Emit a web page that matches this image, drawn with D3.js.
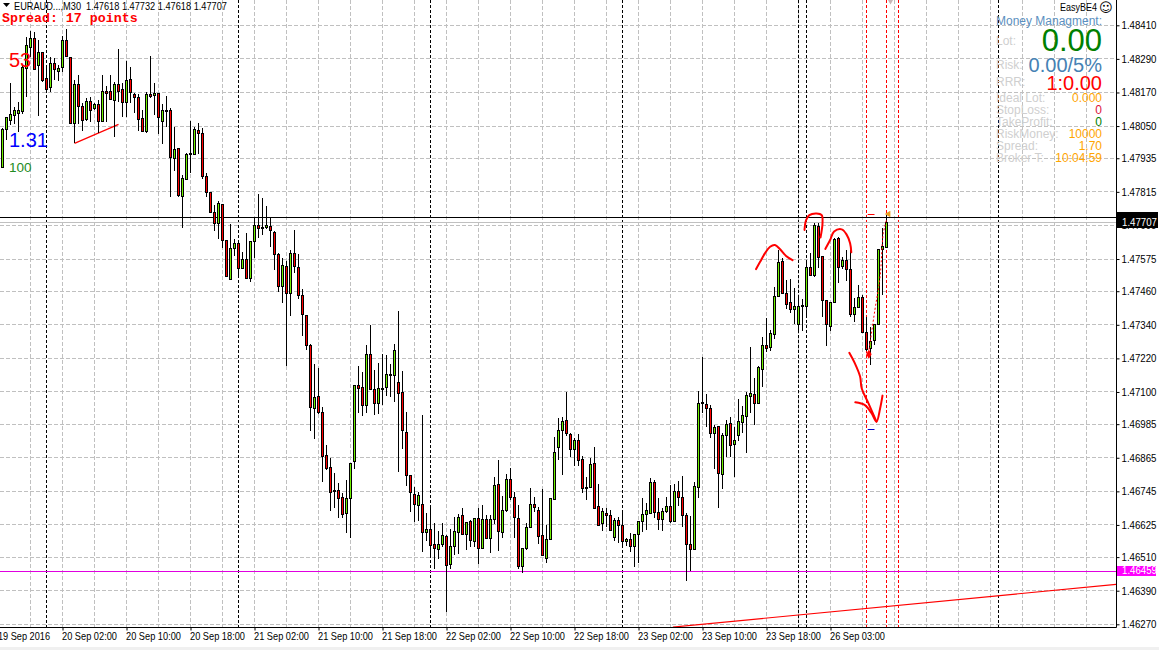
<!DOCTYPE html>
<html><head><meta charset="utf-8">
<style>html,body{margin:0;padding:0;background:#fff;overflow:hidden}svg{display:block}text{font-family:"Liberation Sans",Arial,sans-serif}</style>
<script src="https://cdn.jsdelivr.net/npm/d3@7"></script>
</head><body><svg id="c" width="1159" height="650"></svg>
<script>
// Prices are stored in points (0.00001) above BASE_PRICE
const BASE_PRICE = 1.46;
const opens = [1902,2036,2072,2087,2098,2101,2256,2330,2363,2266,
2313,2220,2185,2272,2244,2259,2356,2296,2059,2197,
2120,2074,2139,2112,2128,2069,2175,2175,2141,2197,
2179,2135,2215,2163,2153,2078,2029,2161,2159,2167,
2066,2105,2104,1936,1970,1801,1862,1951,1949,2035,
2024,1870,1813,1742,1702,1770,1640,1503,1612,1631,
1542,1574,1506,1637,1695,1688,1687,1692,1670,1592,
1476,1549,1452,1595,1545,1445,1374,1266,1041,1084,
1027,874,831,748,748,723,665,719,851,1124,
1116,1051,1234,1109,1058,1113,1115,1163,1158,1134,
1099,956,802,734,694,698,597,609,556,539,
558,584,482,547,597,659,590,638,565,648,
540,645,578,645,770,598,676,788,723,648,
476,540,615,698,677,588,505,573,716,904,
963,999,949,897,927,859,759,758,845,691,
629,666,659,581,641,623,565,573,547,590,
638,663,665,777,670,646,671,691,637,745,
723,659,555,538,759,1062,1056,1041,952,976,
806,945,988,912,944,990,1012,1083,1091,1058,
1183,1267,1258,1308,1442,1567,1452,1420,1394,1342,
1409,1406,1545,1515,1692,1583,1427,1333,1420,1649,
1548,1570,1538,1376,1401,1438,1313,1256,1283,1340,
1608,1618];
const closes = [2036,2080,2092,2104,2107,2259,2337,2363,2253,2313,
2212,2182,2272,2251,2256,2356,2298,2060,2197,2120,
2069,2139,2107,2128,2069,2175,2169,2146,2199,2173,
2134,2213,2169,2151,2076,2030,2161,2153,2167,2081,
2104,2101,1935,1967,1801,1864,1950,1949,2038,2023,
1869,1812,1742,1702,1774,1643,1512,1612,1631,1540,
1574,1506,1637,1695,1683,1683,1695,1676,1592,1476,
1552,1452,1595,1548,1444,1376,1268,1044,1081,1026,
869,829,740,744,719,662,720,845,1124,1114,
1051,1234,1108,1058,1113,1108,1163,1158,1249,1095,
965,801,740,697,731,597,609,553,540,556,
589,482,547,600,652,590,634,569,648,540,
645,576,645,766,601,677,788,722,651,476,
541,616,698,686,583,516,573,720,884,963,
994,951,897,928,854,754,754,841,686,623,
673,658,604,641,623,565,573,547,591,638,
663,677,777,671,644,673,690,637,745,723,
658,555,536,763,1059,1057,1040,952,973,809,
945,984,908,926,995,1016,1088,1095,1058,1188,
1267,1258,1309,1442,1563,1452,1413,1394,1406,1406,
1405,1545,1515,1694,1581,1427,1342,1420,1645,1544,
1570,1538,1376,1402,1438,1312,1251,1281,1340,1608,
1620,1707];
const highs = [2044,2084,2203,2119,2137,2268,2369,2390,2387,2357,
2313,2256,2298,2292,2268,2372,2396,2296,2215,2232,
2131,2149,2153,2131,2143,2232,2193,2232,2209,2324,
2205,2282,2262,2169,2163,2107,2173,2300,2205,2169,
2129,2157,2113,2048,1970,1875,1952,2068,2048,2060,
2042,1881,1816,1768,1782,1770,1640,1699,1645,1631,
1601,1667,1637,1720,1807,1792,1766,1726,1675,1595,
1577,1569,1609,1679,1593,1467,1374,1270,1200,1184,
1047,910,865,809,776,740,785,845,1124,1194,
1171,1268,1339,1178,1205,1236,1232,1199,1271,1389,
1175,1028,802,762,744,1018,666,684,631,603,
631,589,609,654,664,687,637,642,648,684,
696,660,660,797,857,728,807,829,742,696,
541,631,758,726,690,752,625,723,938,1006,
1009,1101,952,937,949,872,797,863,904,770,
684,684,678,648,652,666,577,597,591,640,
723,702,791,785,720,684,726,767,773,782,
800,666,658,779,1103,1224,1093,1053,982,976,
952,1000,1012,976,1074,1050,1101,1259,1151,1193,
1295,1363,1321,1474,1607,1577,1500,1504,1470,1434,
1431,1565,1595,1702,1702,1583,1428,1423,1649,1652,
1583,1607,1607,1434,1482,1446,1369,1333,1343,1610,
1685,1732];
const lows = [1899,2000,2054,2057,2030,2093,2155,2298,2250,2087,
2209,2170,2173,2215,2211,2244,2296,2057,1988,2057,
2034,2069,2066,2107,2026,2069,2066,2143,2012,2137,
2081,2081,2131,2095,2034,2029,2026,2150,2089,2022,
1986,2045,1798,1891,1798,1687,1861,1881,1947,1950,
1861,1798,1738,1676,1646,1615,1509,1500,1586,1509,
1539,1503,1494,1577,1649,1661,1682,1619,1536,1458,
1419,1194,1371,1526,1431,1301,1250,962,932,1023,
779,821,675,684,651,651,595,578,825,1026,
1015,1026,1107,1018,1020,1053,1085,1081,1063,815,
898,764,671,637,639,528,567,517,467,505,
545,314,467,517,521,588,535,547,547,485,
540,573,526,628,533,578,671,714,578,467,
452,535,613,671,557,514,488,571,714,857,
803,944,869,835,837,738,714,756,682,621,
604,619,603,569,559,547,551,528,476,490,
601,607,663,648,607,604,669,631,634,692,
616,426,461,535,722,1024,976,934,826,684,
754,869,869,797,926,954,883,1024,982,1057,
1119,1244,1247,1290,1439,1450,1396,1381,1343,1319,
1319,1367,1513,1509,1542,1368,1265,1319,1417,1490,
1540,1498,1369,1350,1399,1309,1247,1196,1269,1338,
1446,1618];

const priceTicks = [1.4841,1.4829,1.4817,1.4805,1.47935,1.47815,1.47695,1.47575,1.4746,1.4734,1.4722,1.471,1.46985,1.46865,1.46745,1.46625,1.4651,1.4639,1.4627];
const dateBars = [-1,15,31,47,63,79,95,111,127,143,159,175,191,207];
const dateLabels = ["19 Sep 2016","20 Sep 02:00","20 Sep 10:00","20 Sep 18:00","21 Sep 02:00","21 Sep 10:00","21 Sep 18:00","22 Sep 02:00","22 Sep 10:00","22 Sep 18:00","23 Sep 02:00","23 Sep 10:00","23 Sep 18:00","26 Sep 03:00"];
const blackVLines = [11,59,107,155,199,201,249];
const redVLines = [216,221,224];
const trendA = [[18,1988],[29,2056]];
const trendB = [[167.6,260],[278.6,413]];
const scribbles = [
 [[188.4,1539],[189.4,1565],[190.6,1595],[191.9,1619],[193.1,1625],[194.4,1610],[195.9,1586],[197.5,1571]],
 [[200.5,1679],[200.9,1714],[201.7,1732],[203.5,1738],[204.8,1732],[205,1702],[204.5,1652]],
 [[205.7,1611],[206.9,1643],[207.9,1673],[209.8,1681],[211,1663],[211.9,1631],[212.2,1599]],
 [[211.7,1240],[213.1,1202],[214.4,1155],[214.8,1113],[216.5,1059],[218.5,994]],
 [[213.2,1063],[215.6,1053],[217.3,1023],[218.5,994],[219.4,1041],[220,1087]]
];
const tradePath = [[216.5,1238],[218.1,1393],[219.4,1512],[220.2,1667],[221,1714]];
const pt = p => BASE_PRICE + p / 1e5;
const bidPrice = 1.47707, upperLevel = 1.47722, magentaLevel = 1.46459;

const svg = d3.select("#c");
const x = d3.scaleLinear().domain([0,221]).range([2.5,886.5]);
const y = d3.scaleLinear().domain([1.4841,1.4627]).range([25.3,624.3]);
const crisp = v => Math.floor(v) + .5;
const R = 1116, B = 627;

svg.append("rect").attr("x",0).attr("y",647).attr("width",1159).attr("height",3).attr("fill","#f0f0f0");
svg.append("clipPath").attr("id","plot").append("rect").attr("width",R).attr("height",B);
const plot = svg.append("g").attr("clip-path","url(#plot)");

// grid
const gridBars = d3.range(7,7+8*34,8);
plot.append("g").selectAll("line").data(gridBars).join("line")
 .attr("x1",d=>x(d)).attr("x2",d=>x(d)).attr("y1",0).attr("y2",B)
 .attr("stroke","#c0c0c0").attr("stroke-dasharray","4,2");
plot.append("g").selectAll("line").data(priceTicks).join("line")
 .attr("x1",0).attr("x2",R).attr("y1",d=>crisp(y(d))).attr("y2",d=>crisp(y(d)))
 .attr("stroke","#c0c0c0").attr("stroke-dasharray","4,2");

// vertical separators
plot.append("g").selectAll("line").data(blackVLines).join("line")
 .attr("x1",d=>x(d)).attr("x2",d=>x(d)).attr("y1",0).attr("y2",B)
 .attr("stroke","#000").attr("stroke-dasharray","3,2");
plot.append("g").selectAll("line").data(redVLines).join("line")
 .attr("x1",d=>x(d)).attr("x2",d=>x(d)).attr("y1",0).attr("y2",B)
 .attr("stroke","#f00").attr("stroke-dasharray","3,2");

// horizontal levels
const hl = (p,c) => plot.append("line").attr("x1",0).attr("x2",R).attr("y1",crisp(y(p))).attr("y2",crisp(y(p))).attr("stroke",c);
hl(bidPrice,"#c0c0c0"); hl(upperLevel,"#000"); hl(magentaLevel,"#e000e0");

// trend lines
const ln = d3.line().x(d=>x(d[0])).y(d=>y(pt(d[1])));
[trendA,trendB].forEach(t=>plot.append("path").attr("d",ln(t)).attr("fill","none").attr("stroke","#f00").attr("stroke-width",1.2));

// candles
const idx = d3.range(opens.length);
const cs = plot.append("g");
cs.selectAll("line").data(idx).join("line")
 .attr("x1",i=>x(i)).attr("x2",i=>x(i))
 .attr("y1",i=>Math.round(y(pt(highs[i])))).attr("y2",i=>Math.round(y(pt(lows[i]))))
 .attr("stroke","#000").attr("shape-rendering","crispEdges");
cs.selectAll("rect").data(idx).join("rect")
 .attr("x",i=>x(i)-1).attr("width",2)
 .attr("y",i=>crisp(y(pt(Math.max(opens[i],closes[i])))))
 .attr("height",i=>Math.max(1,Math.round(y(pt(Math.min(opens[i],closes[i])))-y(pt(Math.max(opens[i],closes[i]))))))
 .attr("fill",i=>closes[i]>=opens[i]?"#70f000":"#f00").attr("stroke","#000").attr("shape-rendering","crispEdges");

// freehand drawing
const curve = d3.line().x(d=>x(d[0])).y(d=>y(pt(d[1]))).curve(d3.curveCatmullRom);
scribbles.forEach(s=>plot.append("path").attr("d",curve(s)).attr("fill","none").attr("stroke","#f00").attr("stroke-width",2).attr("stroke-linecap","round"));
plot.append("path").attr("d",curve(tradePath)).attr("fill","none").attr("stroke","#f00").attr("stroke-dasharray","2,2");
const mark = (a,b,p,c)=>plot.append("line").attr("x1",x(a)).attr("x2",x(b)).attr("y1",crisp(y(pt(p)))).attr("y2",crisp(y(pt(p)))).attr("stroke",c);
mark(216.3,218,1734,"#f00"); mark(216.3,218,966,"#00c");
plot.append("path").attr("d",d3.symbol(d3.symbolDiamond,26)()).attr("transform",`translate(${x(216.6)},${y(pt(1235))})`).attr("fill","#f00");
plot.append("path").attr("d",d3.symbol(d3.symbolTriangle,18)()).attr("transform",`translate(${x(221.5)},${y(pt(1736))}) rotate(-90)`).attr("fill","#e8a020");
plot.append("path").attr("d",d3.symbol(d3.symbolTriangle,16)()).attr("transform",`translate(${x(222)},1) rotate(180)`).attr("fill","#c8b8b8");

// axes
const yAxis = svg.append("g").attr("transform",`translate(${R+.5},0)`)
 .call(d3.axisRight(y).tickValues(priceTicks).tickFormat(d3.format(".5f")).tickSize(3).tickPadding(2));
yAxis.select(".domain").remove();
const xAxis = svg.append("g").attr("transform",`translate(0,${B+.5})`)
 .call(d3.axisBottom(x).tickValues(dateBars).tickFormat((d,i)=>dateLabels[i]).tickSize(3).tickPadding(2));
xAxis.select(".domain").remove();
xAxis.selectAll("text").attr("text-anchor","start").attr("x",-1).attr("textLength",(d,i)=>i===0?52:55).attr("lengthAdjust","spacingAndGlyphs");
yAxis.selectAll("text").attr("textLength",35).attr("lengthAdjust","spacingAndGlyphs");
[yAxis,xAxis].forEach(a=>{a.attr("font-family",null).attr("font-size",null);a.selectAll("text").attr("font-size",10.5).attr("fill","#000");a.selectAll("line").attr("stroke","#000");});
svg.append("line").attr("x1",R+.5).attr("x2",R+.5).attr("y1",0).attr("y2",B+.5).attr("stroke","#000");
svg.append("line").attr("x1",0).attr("x2",R+.5).attr("y1",B+.5).attr("y2",B+.5).attr("stroke","#000");

// price tags
const tag = (txt,bg,top,h)=>{ svg.append("rect").attr("x",R+1).attr("y",top).attr("width",bg==="#000"?41:39).attr("height",h).attr("fill",bg);
 if(txt) svg.append("text").attr("x",R+6).attr("y",top+h-2).attr("font-size",10.5).attr("fill","#fff").attr("textLength",35).attr("lengthAdjust","spacingAndGlyphs").text(txt); };
tag("","#000", crisp(y(upperLevel))-5.5, 6);
tag(d3.format(".5f")(bidPrice),"#000", crisp(y(bidPrice))-5.5, 11);
tag(d3.format(".5f")(magentaLevel),"#ff00ff", crisp(y(magentaLevel))-5.5, 10);

// text overlays
const T = (t,px,py,size,fill,opt={})=>{const e=svg.append("text").attr("x",px).attr("y",py).attr("font-size",size).attr("fill",fill).attr("text-anchor",opt.anchor||"start").text(t);
 if(opt.family)e.style("font-family",opt.family); if(opt.weight)e.attr("font-weight",opt.weight);
 if(opt.len)e.attr("textLength",opt.len).attr("lengthAdjust","spacingAndGlyphs"); return e;};
svg.append("path").attr("d","M3 3 H10 L6.5 7 Z").attr("fill","#000");
T("EURAUD...,M30",14,10,10.5,"#000",{len:67});
T("1.47618 1.47732 1.47618 1.47707",86,10,10.5,"#000",{len:141});
T("Spread: 17 points",2,22,13.3,"#f00",{family:"'Liberation Mono',monospace",weight:"bold"});
T("53",9,67,20,"#f00");
T("1.31",9,147,20,"#0000ff");
T("100",9,172,13.5,"#228b22");

T("EasyBE4",1060,11,10.5,"#000",{len:37});
T("\u263A",1099,12,13,"#000",{family:"'DejaVu Sans'"});
T("Money Managment:",996,25,12.5,"#5b8fc0",{len:106});
const gray="#cfcfcf", orange="#ffa500";
const panelLeft=["Lot:","Risk:","RRR:","Ideal Lot:","StopLoss:","TakeProfit:","RiskMoney:","Spread:","Broker T:"];
const panelLeftY=[45,69,86,102,114,126,138,150,162];
panelLeft.forEach((t,i)=>T(t,996,panelLeftY[i],12,gray));
T("0.00",1102,51,31,"#008000",{anchor:"end"});
T("0.00/5%",1102,72,20,"#4682b4",{anchor:"end"});
T("1:0.00",1102,90,20,"#f00",{anchor:"end"});
const panelRight=[["0.000",orange],["0","#dc143c"],["0","#008000"],["10000",orange],["1.70",orange],["10:04:59",orange]];
panelRight.forEach((r,i)=>T(r[0],1102,102+12*i,12,r[1],{anchor:"end"}));
</script></body></html>
